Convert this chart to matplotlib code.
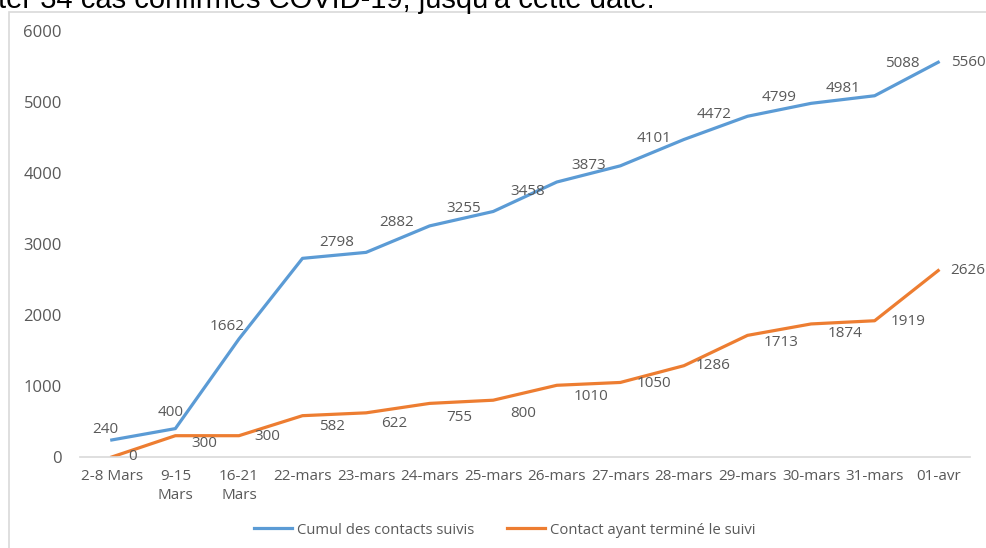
import numpy as np
import matplotlib
matplotlib.use("Agg")
import matplotlib.pyplot as plt
from matplotlib.patches import Rectangle

plt.rcParams['font.family'] = ['Open Sans', 'DejaVu Sans']

categories = ['2-8 Mars', '9-15\nMars', '16-21\nMars', '22-mars', '23-mars', '24-mars',
              '25-mars', '26-mars', '27-mars', '28-mars', '29-mars', '30-mars',
              '31-mars', '01-avr']
cumul_suivis = [240, 400, 1662, 2798, 2882, 3255, 3458, 3873, 4101, 4472, 4799, 4981, 5088, 5560]
termine_suivi = [0, 300, 300, 582, 622, 755, 800, 1010, 1050, 1286, 1713, 1874, 1919, 2626]
series_names = ['Cumul des contacts suivis', 'Contact ayant terminé le suivi']

# label offsets in pixels (dx, dy)
blue_off = [(-6, 10), (-5, 16), (-12, 12), (34, 16), (31, 30), (34, 17), (34, 20),
            (32, 17), (34, 27), (30, 25), (32, 19), (32, 15), (28, 32), (30, 0)]
orange_off = [(21, 0), (29, -8), (28, -1), (30, -11), (28, -11), (30, -14), (30, -13),
              (34, -11), (34, -1), (29, 0), (34, -7), (34, -10), (34, -1), (30, 0)]

blue = '#5B9BD5'
orange = '#ED7D31'
grey = '#595959'

fig = plt.figure(figsize=(9.87, 5.48), dpi=100)
ax = fig.add_axes([80/987, 1-457/548, 890/987, 426/548])

x = np.arange(len(categories))
ax.plot(x, cumul_suivis, color=blue, lw=2.3, label=series_names[0], solid_joinstyle='round')
ax.plot(x, termine_suivi, color=orange, lw=2.3, label=series_names[1], solid_joinstyle='round')

for i, v in enumerate(cumul_suivis):
    ax.annotate(str(v), (x[i], v), xytext=blue_off[i], textcoords='offset pixels',
                ha='center', va='center', fontsize=11, color=grey)
for i, v in enumerate(termine_suivi):
    ax.annotate(str(v), (x[i], v), xytext=orange_off[i], textcoords='offset pixels',
                ha='center', va='center', fontsize=11, color=grey)

ax.set_xlim(-0.5, len(categories) - 0.5)
ax.set_ylim(0, 6000)
ax.set_yticks(range(0, 6001, 1000))
ax.set_xticks(x)
ax.set_xticklabels(categories, linespacing=1.35)
ax.tick_params(axis='both', length=0, labelsize=11, colors=grey)
ax.tick_params(axis='y', pad=13, labelsize=12)
ax.tick_params(axis='x', pad=9)
for s in ['top', 'right', 'left']:
    ax.spines[s].set_visible(False)
ax.spines['bottom'].set_color('#d9d9d9')
ax.spines['bottom'].set_linewidth(1.2)

leg = fig.legend(loc='center', bbox_to_anchor=(0.511, 1-530/548), ncol=2, frameon=False,
                 fontsize=10.7, handlelength=2.6, columnspacing=2.2, handletextpad=0.3)
for t in leg.get_texts():
    t.set_color(grey)

# chart frame
fig.patches.append(Rectangle((9/987, -0.1), 1.0, (548-12)/548 + 0.1, transform=fig.transFigure,
                             fill=False, edgecolor='#d9d9d9', lw=1.2))

# clipped caption above the chart
fig.text(-0.002, 1-8/548, "ter 34 cas confirmés COVID-19, jusqu'à cette date.",
         fontsize=21, family='Liberation Sans', color='black', va='baseline', ha='left')

fig.savefig('out.png', dpi=100)
